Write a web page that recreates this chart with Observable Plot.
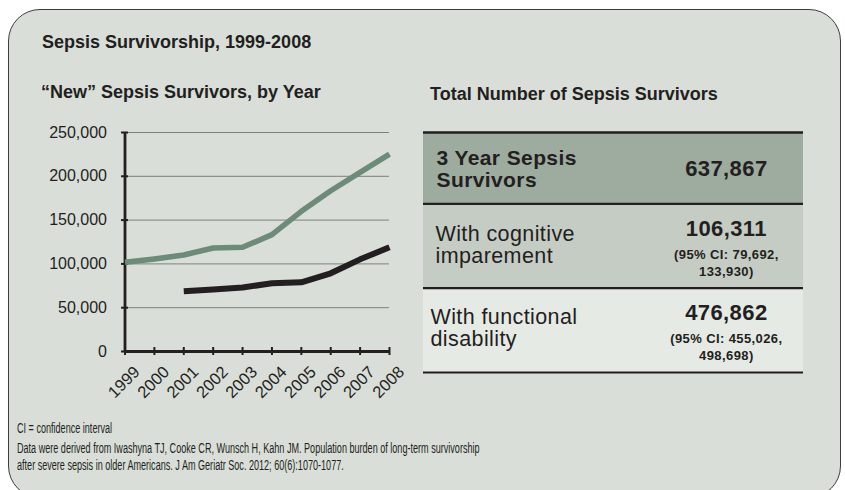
<!DOCTYPE html>
<html>
<head>
<meta charset="utf-8">
<script src="https://cdn.jsdelivr.net/npm/d3@7"></script>
<script src="https://cdn.jsdelivr.net/npm/@observablehq/plot@0.6"></script>
<style>
  html, body { margin: 0; padding: 0; width: 845px; height: 490px; overflow: hidden; background: #fff; }
  body { position: relative; font-family: "Liberation Sans", Arial, Helvetica, sans-serif; color: #231f20; }
  #panel { position: absolute; left: 8px; top: 9px; width: 833px; height: 489px; box-sizing: border-box;
           border: 1.3px solid #3d3d3d; border-radius: 32px; background: #d9ded8; }
  .h { position: absolute; font-weight: bold; font-size: 18px; line-height: 18px; white-space: nowrap; }
  .foot { position: absolute; left: 17px; font-family: "Liberation Sans", Arial, sans-serif;
          font-size: 14px; line-height: 14px; white-space: nowrap; transform: scaleX(0.648); transform-origin: left top; }
  #chart, #table { position: absolute; }
  #chart { left: 0px; top: 120px; }
  #table { left: 423px; top: 130px; }
</style>
</head>
<body>
<div id="panel"></div>
<div class="h" style="left:42px; top:33px;">Sepsis Survivorship, 1999-2008</div>
<div class="h" style="left:41px; top:83px;">“New” Sepsis Survivors, by Year</div>
<div class="h" style="left:430px; top:85px;">Total Number of Sepsis Survivors</div>
<div id="chart"></div>
<div id="table"></div>
<div class="foot" style="top:421px;">CI = confidence interval</div>
<div class="foot" style="top:441px;">Data were derived from Iwashyna TJ, Cooke CR, Wunsch H, Kahn JM. Population burden of long-term survivorship</div>
<div class="foot" style="top:458px;">after severe sepsis in older Americans. J Am Geriatr Soc. 2012; 60(6):1070-1077.</div>
<script>
// ---- Data ----
const years = [1999, 2000, 2001, 2002, 2003, 2004, 2005, 2006, 2007, 2008];
const newSurvivors = [101800, 105700, 110200, 118200, 118900, 133400, 160000, 183500, 204400, 225400];
const years3 = [2001, 2002, 2003, 2004, 2005, 2006, 2007, 2008];
const threeYearSurvivors = [68700, 70700, 73000, 77900, 79000, 89300, 105200, 119000];
const yTicks = [0, 50000, 100000, 150000, 200000, 250000];

const rowLabels = ["3 Year Sepsis\nSurvivors", "With cognitive\nimparement", "With functional\ndisability"];
const rowValues = [637867, 106311, 476862];
const ciLow = [null, 79692, 455026];
const ciHigh = [null, 133930, 498698];

// ---- Line chart ----
const ink = "#231f20";
const fmt = d3.format(",");
const green = years.map((x, i) => ({x, y: newSurvivors[i]}));
const black = years3.map((x, i) => ({x, y: threeYearSurvivors[i]}));

const chart = Plot.plot({
  width: 420, height: 290,
  marginLeft: 124.5, marginRight: 31, marginTop: 12, marginBottom: 59,
  x: {domain: [1999, 2008], label: null},
  y: {domain: [0, 250000], label: null},
  style: {background: "transparent", fontFamily: '"Liberation Sans", Arial, sans-serif', color: ink, overflow: "visible"},
  marks: [
    Plot.gridY(yTicks, {stroke: "#7b807a", strokeOpacity: 1, strokeWidth: 1}),
    Plot.axisY(yTicks, {tickSize: 7, dx: 3.5, text: null, label: null, stroke: ink, strokeWidth: 2}),
    Plot.axisY(yTicks, {tickSize: 0, tickPadding: 18, tickFormat: fmt, label: null, fontSize: 16, fill: ink}),
    Plot.axisX(years, {tickSize: 8, dy: -4, text: null, label: null, stroke: ink, strokeWidth: 2}),
    Plot.axisX(years, {tickSize: 0, tickRotate: -45, tickFormat: d => String(d), label: null, fontSize: 16.5, fill: ink, dx: 12, dy: 6}),
    Plot.ruleX([1999], {stroke: ink, strokeWidth: 2.8}),
    Plot.ruleY([0], {stroke: ink, strokeWidth: 2.8}),
    Plot.line(green, {x: "x", y: "y", stroke: "#6c8b78", strokeWidth: 5.5, strokeLinecap: "butt", strokeLinejoin: "round"}),
    Plot.line(black, {x: "x", y: "y", stroke: ink, strokeWidth: 6, strokeLinecap: "butt", strokeLinejoin: "round"})
  ]
});
document.getElementById("chart").append(chart);

// ---- Table ----
// Row heights follow their content: padding plus the number of text lines in the row.
const rowPadLines = 3.46;
const rows = rowLabels.map((label, i) => {
  const ci = ciLow[i] == null ? null : `(95% CI: ${fmt(ciLow[i])},\n${fmt(ciHigh[i])})`;
  const lines = Math.max(label.split("\n").length, 1 + (ci ? ci.split("\n").length : 0));
  return {i, label, value: fmt(rowValues[i]), ci, span: rowPadLines + lines};
});
let acc = 0;
for (const r of rows) { r.y1 = acc; acc += r.span; r.y2 = acc; r.ym = (r.y1 + r.y2) / 2; }
const bounds = [0, ...rows.map(r => r.y2)];

const table = Plot.plot({
  width: 380, height: 244,
  margin: 0, marginTop: 2, marginBottom: 2,
  x: {domain: [0, 1], axis: null},
  y: {domain: [0, acc], reverse: true, axis: null},
  color: {domain: [0, 1, 2], range: ["#9eab9f", "#c5ccc4", "#e6eae5"]},
  style: {background: "transparent", fontFamily: '"Liberation Sans", Arial, sans-serif', color: ink, letterSpacing: "0.4px", overflow: "visible"},
  marks: [
    Plot.rect(rows, {x1: 0, x2: 1, y1: "y1", y2: "y2", fill: "i"}),
    Plot.ruleY(bounds, {y: d => d, stroke: ink, strokeWidth: d => d === 0 ? 2.6 : 2.2}),
    Plot.text(rows.filter(d => d.i === 0), {x: 0, y: "ym", text: "label", textAnchor: "start", dx: 13, dy: 1,
      fontSize: 21, fontWeight: "bold", lineHeight: 1.06, fill: ink}),
    Plot.text(rows.filter(d => d.i === 1), {x: 0, y: "ym", text: "label", textAnchor: "start", dx: 12, dy: -1,
      fontSize: 21.5, lineHeight: 1.03, fill: ink, style: "letter-spacing:0.9px"}),
    Plot.text(rows.filter(d => d.i === 2), {x: 0, y: "ym", text: "label", textAnchor: "start", dx: 7, dy: -2,
      fontSize: 21.5, lineHeight: 1.03, fill: ink, style: "letter-spacing:0.7px"}),
    Plot.text(rows.filter(d => d.ci == null), {x: 0.797, y: "ym", text: "value", dy: 1,
      fontSize: 22, fontWeight: "bold", fill: ink}),
    Plot.text(rows.filter(d => d.ci != null), {x: 0.797, y: "ym", text: "value", lineAnchor: "bottom", dy: -10,
      fontSize: 22, fontWeight: "bold", fill: ink}),
    Plot.text(rows.filter(d => d.ci != null), {x: 0.797, y: "ym", text: "ci", lineAnchor: "top", dy: 1,
      fontSize: 13, fontWeight: "bold", lineHeight: 1.3, fill: ink})
  ]
});
document.getElementById("table").append(table);
</script>
</body>
</html>
